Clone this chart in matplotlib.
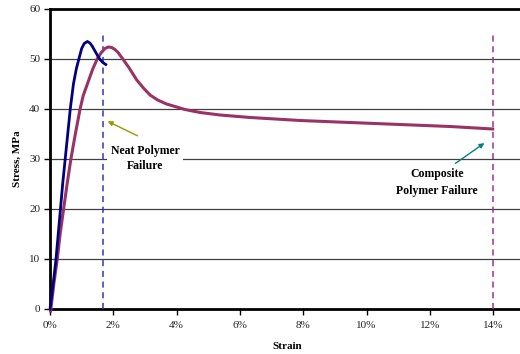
import matplotlib
matplotlib.use("Agg")
import matplotlib.pyplot as plt
from matplotlib.ticker import FuncFormatter

# Data (strain in %, stress in MPa)
neat_strain = [0.0, 0.10, 0.19, 0.26, 0.33, 0.40, 0.48, 0.56, 0.64, 0.74, 0.83, 0.92, 1.00, 1.08, 1.18,
               1.26, 1.34, 1.42, 1.50, 1.58, 1.67, 1.76]
neat_stress = [0.0, 5.0, 10.0, 15.0, 20.0, 25.0, 30.0, 35.0, 40.0, 45.0, 48.0, 50.2, 52.1, 53.1, 53.5,
               53.2, 52.5, 51.6, 50.7, 49.9, 49.3, 48.9]

comp_strain = [0.02, 0.12, 0.23, 0.32, 0.43, 0.54, 0.66, 0.80, 0.95, 1.05, 1.18, 1.35, 1.49, 1.62, 1.74,
               1.84, 1.95, 2.05, 2.15, 2.30, 2.50, 2.74, 2.95, 3.16, 3.40, 3.68, 4.00, 4.26, 4.74, 5.37,
               6.32, 7.90, 9.47, 11.05, 12.63, 13.98]
comp_stress = [-0.4, 5.0, 10.0, 15.0, 20.0, 25.0, 30.0, 35.0, 40.0, 42.7, 45.0, 48.0, 50.0, 51.3, 52.1,
               52.4, 52.3, 51.9, 51.3, 50.0, 48.2, 45.8, 44.2, 42.8, 41.8, 41.0, 40.4, 39.9, 39.3, 38.8,
               38.3, 37.7, 37.3, 36.9, 36.5, 36.0]

neat_fail = 1.68
comp_fail = 14.0
x_ticks = [0, 2, 4, 6, 8, 10, 12, 14]
y_ticks = [0, 10, 20, 30, 40, 50, 60]

plt.rcParams['font.family'] = ['Liberation Serif', 'DejaVu Serif']

fig = plt.figure(figsize=(5.2, 3.54), dpi=100)
ax = fig.add_axes([50/520, 45/354, 475/520, 300/354])

for y in y_ticks[1:-1]:
    ax.axhline(y, color='#404040', lw=0.9, zorder=1)

ax.plot(comp_strain, comp_stress, color='#993366', lw=2.2, zorder=4, clip_on=False,
        solid_joinstyle='round')
ax.plot(neat_strain, neat_stress, color='#000080', lw=2.0, zorder=5, clip_on=False,
        solid_joinstyle='round')

ax.vlines(neat_fail, 0, 55.2, colors='#3333CC', linestyles=(0, (4, 3)), lw=1.1, zorder=3)
ax.vlines(comp_fail, 0, 55.0, colors='#993399', linestyles=(0, (4, 3)), lw=1.1, zorder=3)

ax.set_xlim(0, 15)
ax.set_ylim(0, 60)
ax.set_xticks(x_ticks)
ax.set_yticks(y_ticks)
ax.xaxis.set_major_formatter(FuncFormatter(lambda v, p: f"{int(v)}%"))
ax.tick_params(axis='both', labelsize=8, direction='out', length=4, width=1, colors='black', labelcolor='#222222')
ax.tick_params(axis='x', pad=5)
ax.tick_params(axis='y', pad=3)

for side in ['left', 'bottom', 'top']:
    ax.spines[side].set_linewidth(2)
    ax.spines[side].set_color('black')
ax.spines['right'].set_visible(False)

ax.set_xlabel('Strain', fontsize=8, fontweight='bold', labelpad=8)
ax.set_ylabel('Stress, MPa', fontsize=8, fontweight='bold', labelpad=5)

# Annotations
ax.annotate('', xy=(1.74, 37.8), xytext=(2.84, 34.4),
            arrowprops=dict(arrowstyle='-|>', color='#999900', lw=1.0, mutation_scale=7), zorder=6)
ax.text(3.0, 30.1, 'Neat Polymer\nFailure', fontsize=8.5, fontweight='bold', ha='center', va='center',
        linespacing=1.35, zorder=6,
        bbox=dict(boxstyle='square,pad=0.3', fc='white', ec='none'))

ax.annotate('', xy=(13.79, 33.5), xytext=(12.73, 28.8),
            arrowprops=dict(arrowstyle='-|>', color='#008080', lw=1.0, mutation_scale=7), zorder=6)
ax.text(12.22, 25.3, 'Composite\nPolymer Failure', fontsize=8.5, fontweight='bold', ha='center', va='center',
        linespacing=1.45, zorder=6)

fig.savefig('out.png', dpi=100)
